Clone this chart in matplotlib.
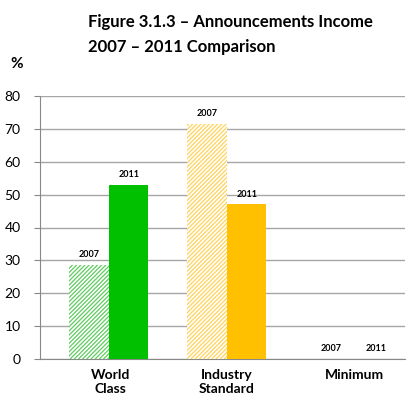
import numpy as np
import matplotlib.pyplot as plt

plt.rcParams['font.family'] = ['Lato', 'DejaVu Sans']
plt.rcParams['hatch.linewidth'] = 0.9

categories = ['World\nClass', 'Industry\nStandard', 'Minimum']
vals_2007 = [28.5, 71.5, 0]
vals_2011 = [53, 47, 0]
hatch_colors = ['#5fcc5f', '#ffd35a', '#ffffff']
solid_colors = ['#00c000', '#ffc000', '#ffffff']

fig = plt.figure(figsize=(4.08, 3.98), dpi=100)
ax = fig.add_axes([40 / 408, 39 / 398, 365 / 408, 263 / 398])

x = np.arange(len(categories))
w = 0.335

for i in range(len(categories)):
    ax.bar(x[i] - w / 2, vals_2007[i], w, facecolor='white', edgecolor=hatch_colors[i],
           hatch='////////', linewidth=0, zorder=3)
    ax.bar(x[i] + w / 2, vals_2011[i], w, color=solid_colors[i], linewidth=0, zorder=3)
    ax.text(x[i] - w / 2 + (0.05 if i == 2 else 0), vals_2007[i] + 1.8, '2007',
            ha='center', va='bottom', fontsize=6.5, fontweight='bold')
    ax.text(x[i] + w / 2 + (0.1 if i == 2 else 0), vals_2011[i] + 1.8, '2011',
            ha='center', va='bottom', fontsize=6.5, fontweight='bold')

ax.set_xlim(-0.585, 2.51)
ax.set_ylim(0, 80)
ax.set_yticks(np.arange(0, 81, 10))
ax.tick_params(axis='y', labelsize=10, length=4, color='#888888', pad=10)
ax.set_xticks(x + np.array([0.01, 0, 0.08]))
ax.set_xticklabels(categories, fontsize=10, fontweight='bold')
ax.tick_params(axis='x', length=0, pad=7)
ax.grid(axis='y', color='#a6a6a6', linewidth=1, zorder=0)
for s in ['top', 'right']:
    ax.spines[s].set_visible(False)
ax.spines['left'].set_color('#888888')
ax.spines['bottom'].set_color('#888888')

fig.text(88 / 408, 1 - 22 / 398, 'Figure 3.1.3 \u2013 Announcements Income', fontsize=12,
         fontweight='bold', va='center')
fig.text(88 / 408, 1 - 47 / 398, '2007 \u2013 2011 Comparison', fontsize=12,
         fontweight='bold', va='center')
fig.text(10 / 408, 1 - 64 / 398, '%', fontsize=11, fontweight='bold', va='center')

fig.savefig('out.png', dpi=100)
